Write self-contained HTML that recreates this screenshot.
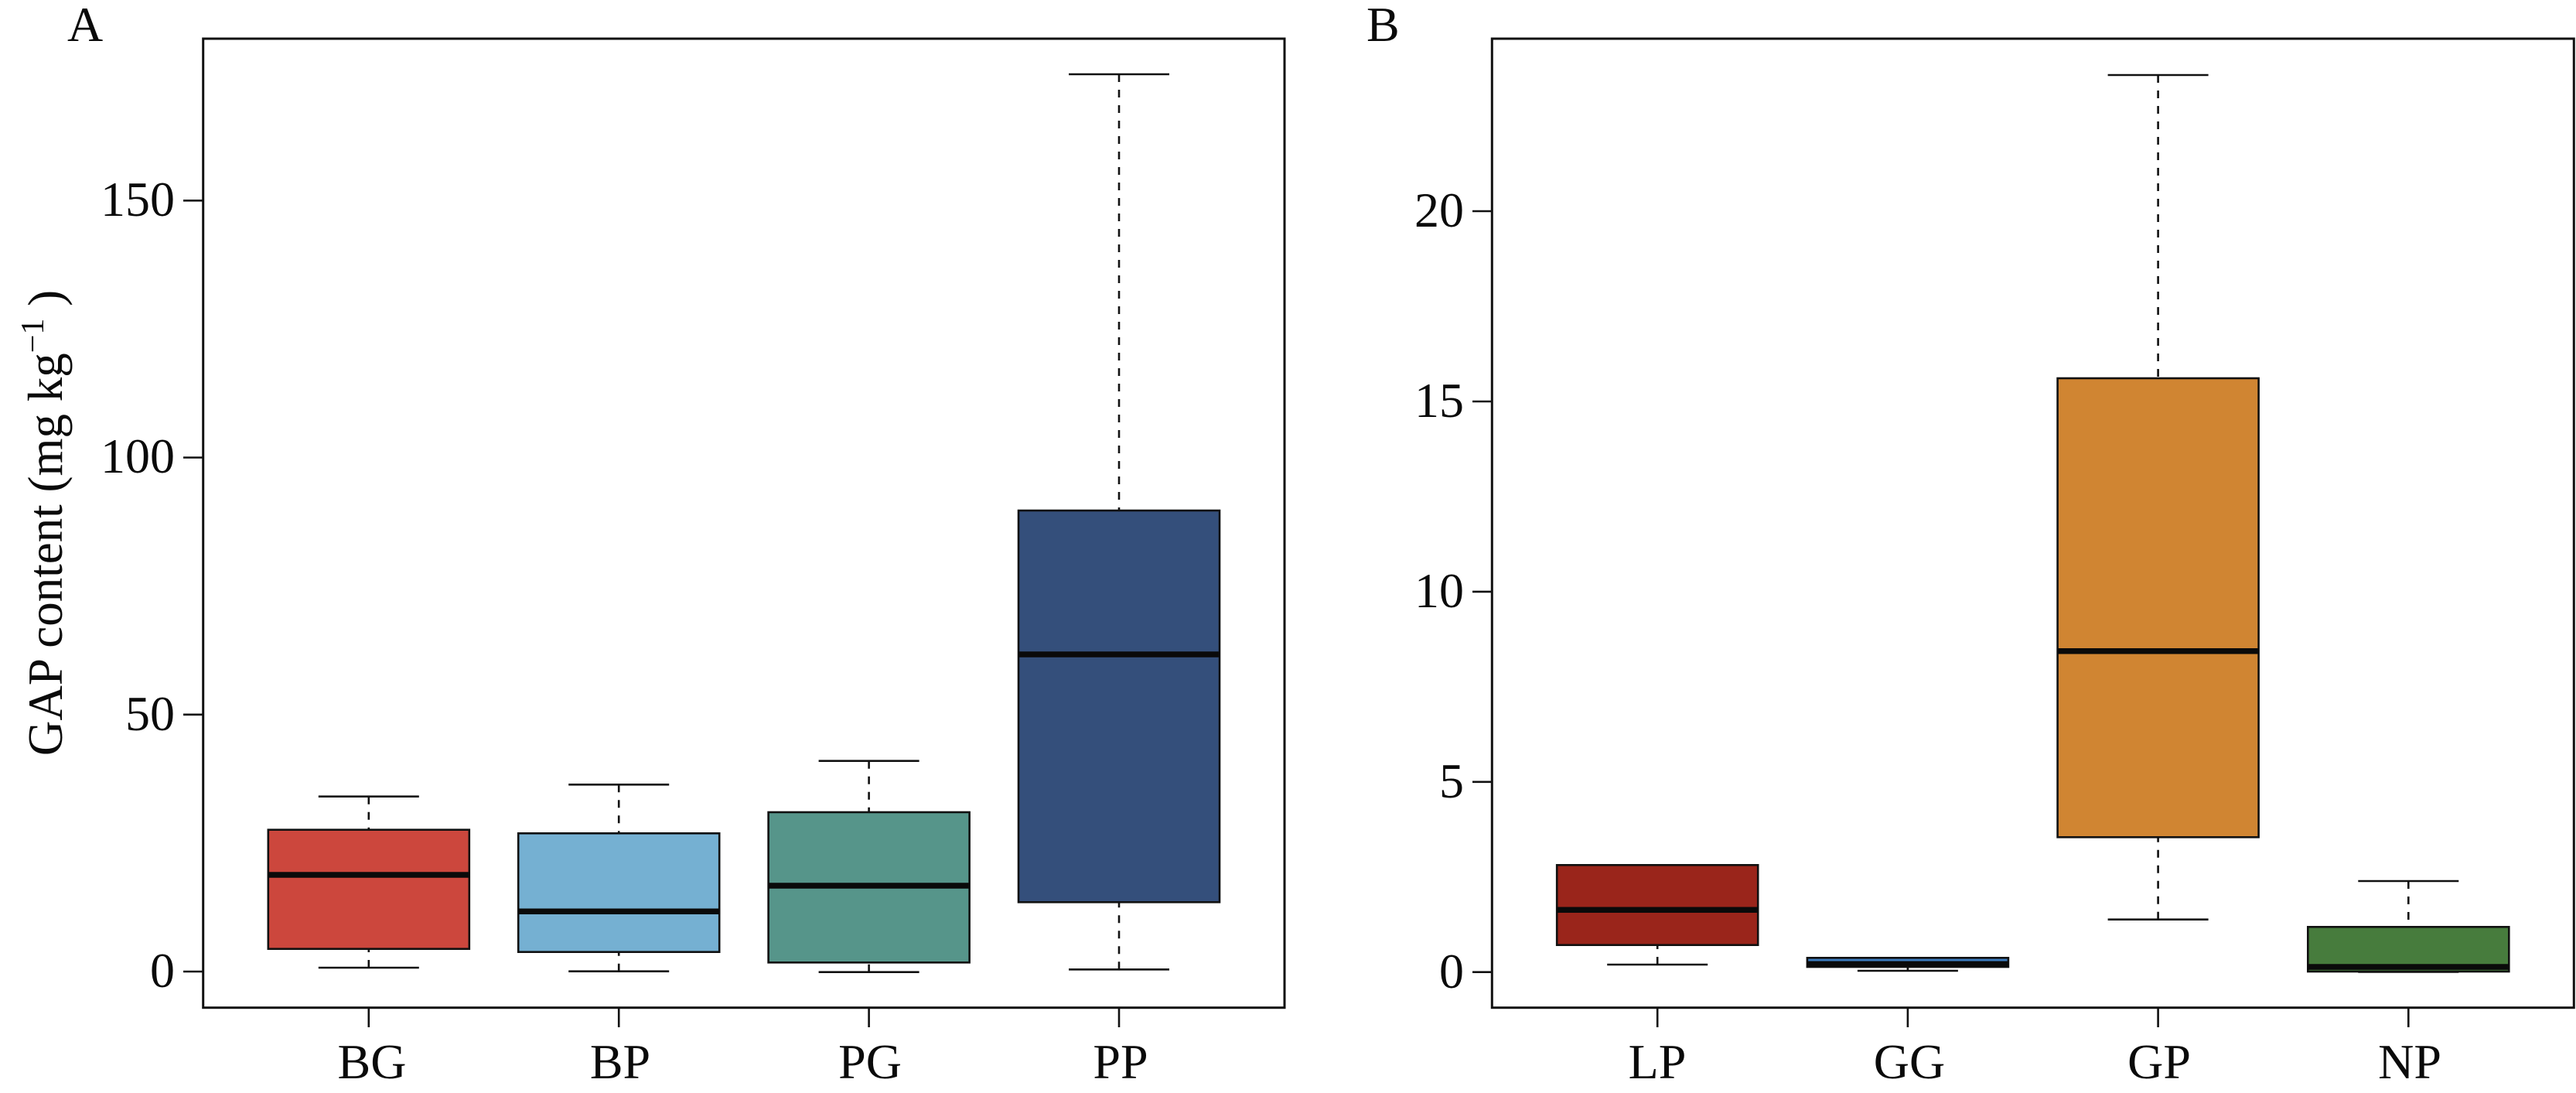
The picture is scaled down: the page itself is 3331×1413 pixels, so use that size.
<!DOCTYPE html>
<html>
<head>
<meta charset="utf-8">
<style>
  html, body { margin: 0; padding: 0; background: #ffffff; }
  svg { display: block; }
  text { font-family: "Liberation Serif", "DejaVu Serif", serif; fill: #0a0a0a; }
</style>
</head>
<body>
<svg width="3331" height="1413" viewBox="0 0 3331 1413" xmlns="http://www.w3.org/2000/svg">
  <rect x="0" y="0" width="3331" height="1413" fill="#ffffff"/>

  <!-- Panel labels -->
  <text x="87" y="53" font-size="64">A</text>
  <text x="1767" y="53" font-size="64">B</text>

  <!-- Y axis title -->
  <text transform="translate(80,676) rotate(-90)" text-anchor="middle" font-size="63">GAP content (mg kg<tspan font-size="42" dy="-24">−1</tspan><tspan dy="24"> )</tspan></text>

  <!-- ================= PANEL A ================= -->
  <g stroke="#111" stroke-width="2.6" fill="none">
    <!-- y ticks -->
    <line x1="237" y1="1256" x2="263" y2="1256"/>
    <line x1="237" y1="923.8" x2="263" y2="923.8"/>
    <line x1="237" y1="591.5" x2="263" y2="591.5"/>
    <line x1="237" y1="259.3" x2="263" y2="259.3"/>
    <!-- x ticks -->
    <line x1="476.8" y1="1302.7" x2="476.8" y2="1328"/>
    <line x1="800.2" y1="1302.7" x2="800.2" y2="1328"/>
    <line x1="1123.6" y1="1302.7" x2="1123.6" y2="1328"/>
    <line x1="1447" y1="1302.7" x2="1447" y2="1328"/>
  </g>
  <g font-size="64" text-anchor="end">
    <text x="226" y="1276">0</text>
    <text x="226" y="944">50</text>
    <text x="226" y="611">100</text>
    <text x="226" y="279">150</text>
  </g>
  <g font-size="64" text-anchor="middle">
    <text x="481" y="1394">BG</text>
    <text x="802" y="1394">BP</text>
    <text x="1125" y="1394">PG</text>
    <text x="1449" y="1394">PP</text>
  </g>

  <!-- Boxes A -->
  <!-- BG -->
  <g>
    <line x1="476.8" y1="1029.7" x2="476.8" y2="1072.7" stroke="#111" stroke-width="2.6" stroke-dasharray="10 10"/>
    <line x1="476.8" y1="1251" x2="476.8" y2="1226.7" stroke="#111" stroke-width="2.6" stroke-dasharray="10 10"/>
    <line x1="411.8" y1="1029.7" x2="541.8" y2="1029.7" stroke="#111" stroke-width="2.6"/>
    <line x1="411.8" y1="1251" x2="541.8" y2="1251" stroke="#111" stroke-width="2.6"/>
    <rect x="346.8" y="1072.7" width="260" height="154" fill="#CC473D" stroke="#111" stroke-width="2.6"/>
    <line x1="346.8" y1="1131" x2="606.8" y2="1131" stroke="#0a0a0a" stroke-width="7.5"/>
  </g>
  <!-- BP -->
  <g>
    <line x1="800.2" y1="1014.3" x2="800.2" y2="1077.3" stroke="#111" stroke-width="2.6" stroke-dasharray="10 10"/>
    <line x1="800.2" y1="1255.7" x2="800.2" y2="1230.7" stroke="#111" stroke-width="2.6" stroke-dasharray="10 10"/>
    <line x1="735.2" y1="1014.3" x2="865.2" y2="1014.3" stroke="#111" stroke-width="2.6"/>
    <line x1="735.2" y1="1255.7" x2="865.2" y2="1255.7" stroke="#111" stroke-width="2.6"/>
    <rect x="670.2" y="1077.3" width="260" height="153.4" fill="#75B0D2" stroke="#111" stroke-width="2.6"/>
    <line x1="670.2" y1="1178.3" x2="930.2" y2="1178.3" stroke="#0a0a0a" stroke-width="7.5"/>
  </g>
  <!-- PG -->
  <g>
    <line x1="1123.6" y1="983.7" x2="1123.6" y2="1050" stroke="#111" stroke-width="2.6" stroke-dasharray="10 10"/>
    <line x1="1123.6" y1="1256.7" x2="1123.6" y2="1244.3" stroke="#111" stroke-width="2.6" stroke-dasharray="10 10"/>
    <line x1="1058.6" y1="983.7" x2="1188.6" y2="983.7" stroke="#111" stroke-width="2.6"/>
    <line x1="1058.6" y1="1256.7" x2="1188.6" y2="1256.7" stroke="#111" stroke-width="2.6"/>
    <rect x="993.6" y="1050" width="260" height="194.3" fill="#56958A" stroke="#111" stroke-width="2.6"/>
    <line x1="993.6" y1="1145" x2="1253.6" y2="1145" stroke="#0a0a0a" stroke-width="7.5"/>
  </g>
  <!-- PP -->
  <g>
    <line x1="1447" y1="96" x2="1447" y2="660" stroke="#111" stroke-width="2.6" stroke-dasharray="10 10"/>
    <line x1="1447" y1="1253.3" x2="1447" y2="1166.3" stroke="#111" stroke-width="2.6" stroke-dasharray="10 10"/>
    <line x1="1382" y1="96" x2="1512" y2="96" stroke="#111" stroke-width="2.6"/>
    <line x1="1382" y1="1253.3" x2="1512" y2="1253.3" stroke="#111" stroke-width="2.6"/>
    <rect x="1317" y="660" width="260" height="506.3" fill="#344F7B" stroke="#111" stroke-width="2.6"/>
    <line x1="1317" y1="846" x2="1577" y2="846" stroke="#0a0a0a" stroke-width="7.5"/>
  </g>

  <!-- Frame A -->
  <rect x="262.7" y="50" width="1398.3" height="1252.7" fill="none" stroke="#111" stroke-width="3"/>

  <!-- ================= PANEL B ================= -->
  <g stroke="#111" stroke-width="2.6" fill="none">
    <line x1="1904" y1="1256.7" x2="1929.3" y2="1256.7"/>
    <line x1="1904" y1="1010.8" x2="1929.3" y2="1010.8"/>
    <line x1="1904" y1="764.9" x2="1929.3" y2="764.9"/>
    <line x1="1904" y1="519" x2="1929.3" y2="519"/>
    <line x1="1904" y1="273" x2="1929.3" y2="273"/>
    <line x1="2143.2" y1="1302.7" x2="2143.2" y2="1328"/>
    <line x1="2466.9" y1="1302.7" x2="2466.9" y2="1328"/>
    <line x1="2790.6" y1="1302.7" x2="2790.6" y2="1328"/>
    <line x1="3114.3" y1="1302.7" x2="3114.3" y2="1328"/>
  </g>
  <g font-size="64" text-anchor="end">
    <text x="1893" y="1277">0</text>
    <text x="1893" y="1031">5</text>
    <text x="1893" y="785">10</text>
    <text x="1893" y="539">15</text>
    <text x="1893" y="293">20</text>
  </g>
  <g font-size="64" text-anchor="middle">
    <text x="2143" y="1394">LP</text>
    <text x="2469" y="1394">GG</text>
    <text x="2792" y="1394">GP</text>
    <text x="3116" y="1394">NP</text>
  </g>

  <!-- LP -->
  <g>
    <line x1="2143.2" y1="1247" x2="2143.2" y2="1221.7" stroke="#111" stroke-width="2.6" stroke-dasharray="10 10"/>
    <line x1="2078.2" y1="1118.3" x2="2208.2" y2="1118.3" stroke="#111" stroke-width="2.6"/>
    <line x1="2078.2" y1="1247" x2="2208.2" y2="1247" stroke="#111" stroke-width="2.6"/>
    <rect x="2013.2" y="1118.3" width="260" height="103.4" fill="#9A251B" stroke="#111" stroke-width="2.6"/>
    <line x1="2013.2" y1="1176.3" x2="2273.2" y2="1176.3" stroke="#0a0a0a" stroke-width="7.5"/>
  </g>
  <!-- GG -->
  <g>
    <line x1="2401.9" y1="1255" x2="2531.9" y2="1255" stroke="#111" stroke-width="2.6"/>
    <line x1="2466.9" y1="1255" x2="2466.9" y2="1250" stroke="#111" stroke-width="2.6"/>
    <rect x="2336.9" y="1238.3" width="260" height="11.7" fill="#3C7CC0" stroke="#111" stroke-width="2.6"/>
    <line x1="2336.9" y1="1246" x2="2596.9" y2="1246" stroke="#0a0a0a" stroke-width="7"/>
  </g>
  <!-- GP -->
  <g>
    <line x1="2790.6" y1="97" x2="2790.6" y2="489" stroke="#111" stroke-width="2.6" stroke-dasharray="10 10"/>
    <line x1="2790.6" y1="1188.7" x2="2790.6" y2="1082.3" stroke="#111" stroke-width="2.6" stroke-dasharray="10 10"/>
    <line x1="2725.6" y1="97" x2="2855.6" y2="97" stroke="#111" stroke-width="2.6"/>
    <line x1="2725.6" y1="1188.7" x2="2855.6" y2="1188.7" stroke="#111" stroke-width="2.6"/>
    <rect x="2660.6" y="489" width="260" height="593.3" fill="#D08532" stroke="#111" stroke-width="2.6"/>
    <line x1="2660.6" y1="841.7" x2="2920.6" y2="841.7" stroke="#0a0a0a" stroke-width="7.5"/>
  </g>
  <!-- NP -->
  <g>
    <line x1="3114.3" y1="1139" x2="3114.3" y2="1198.3" stroke="#111" stroke-width="2.6" stroke-dasharray="10 10"/>
    <line x1="3049.3" y1="1139" x2="3179.3" y2="1139" stroke="#111" stroke-width="2.6"/>
    <line x1="3049.3" y1="1256.5" x2="3179.3" y2="1256.5" stroke="#111" stroke-width="2.6"/>
    <rect x="2984.3" y="1198.3" width="260" height="57.7" fill="#477C3D" stroke="#111" stroke-width="2.6"/>
    <line x1="2984.3" y1="1250" x2="3244.3" y2="1250" stroke="#0a0a0a" stroke-width="7.5"/>
  </g>

  <!-- Frame B -->
  <rect x="1929.3" y="50" width="1399" height="1252.7" fill="none" stroke="#111" stroke-width="3"/>
</svg>
</body>
</html>
